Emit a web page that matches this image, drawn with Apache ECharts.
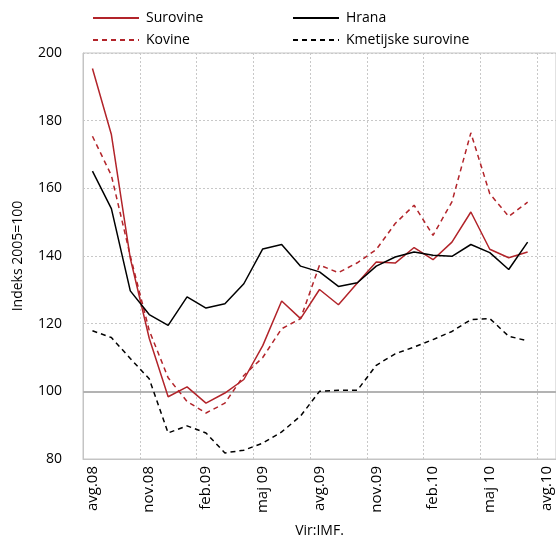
<!DOCTYPE html>
<html>
<head>
<meta charset="utf-8">
<script src="https://cdn.jsdelivr.net/npm/echarts@6/dist/echarts.min.js"></script>
<style>html,body{margin:0;padding:0;background:#fff}#c{width:556px;height:543px}</style>
</head>
<body>
<div id="c"></div>
<script>
const categories = ['avg.08','sep.08','okt.08','nov.08','dec.08','jan.09','feb.09','mar.09','apr.09','maj 09','jun.09','jul.09','avg.09','sep.09','okt.09','nov.09','dec.09','jan.10','feb.10','mar.10','apr.10','maj 10','jun.10','jul.10','avg.10'];
const surovine = [195.4,175.9,139.3,115.7,98.4,101.3,96.5,99.5,103.5,113.5,126.7,121.5,130.1,125.6,132,138.2,137.9,142.5,138.9,144.1,153,142,139.5,141.2,null];
const kovine = [175.4,163.8,140,118,104,97,93.6,96.5,104.7,110,118.5,121.5,137.3,135.1,138,141.9,149.6,155,146.1,156,176.4,158.4,151.7,155.9,null];
const hrana = [165.1,154,129.7,122.7,119.5,127.9,124.6,125.9,131.8,142.1,143.4,137,135.3,131,132.1,137,139.7,141.2,140.2,139.9,143.4,141,136,144.1,null];
const kmetijske = [117.9,115.9,109.7,103.7,87.7,89.8,87.7,81.8,82.6,84.7,88,92.7,100,100.3,100.3,107.7,111.1,113.1,115.3,117.7,121.2,121.5,116.3,114.9,null];
const yTicks = {min: 80, max: 200, interval: 20};

const RED = '#B2242A', BLK = '#000000';
const FONT = '"Open Sans", "Noto Sans", sans-serif';
const chart = echarts.init(document.getElementById('c'), null, {renderer: 'canvas'});
const mkLegend = (name, left, top) => ({
  data: [name], left: left, top: top, itemWidth: 46, itemHeight: 12, itemGap: 6,
  itemStyle: {opacity: 0, borderWidth: 0},
  textStyle: {fontFamily: FONT, fontSize: 14, color: '#000', padding: [0,0,0,2]},
  selectedMode: false, padding: 0
});
const ser = (name, data, color, dashed, z) => ({
  name, type: 'line', data, symbol: 'none', z,
  lineStyle: {color, width: 1.5, type: dashed ? [5,4] : 'solid'},
  itemStyle: {color}, animation: false
});
const s1 = ser('Surovine', surovine, RED, false, 5);
s1.markLine = {silent: true, symbol: 'none', label: {show: false},
  lineStyle: {color: '#b3b3b3', width: 2, type: 'solid'}, data: [{yAxis: 100}], animation: false, z: 1};
chart.setOption({
  animation: false,
  textStyle: {fontFamily: FONT},
  grid: {left: 83, right: 0, top: 53, bottom: 84, show: true, borderColor: '#c4c4c4', borderWidth: 1},
  legend: [mkLegend('Surovine', 92, 11), mkLegend('Kovine', 92, 33), mkLegend('Hrana', 292, 11), mkLegend('Kmetijske surovine', 292, 33)],
  xAxis: {
    type: 'category', data: categories, boundaryGap: true,
    axisLine: {show: true, lineStyle: {color: '#c4c4c4', width: 1}},
    axisTick: {show: false},
    axisLabel: {rotate: 90, interval: (i) => i % 3 === 0, margin: 7, fontSize: 15, color: '#000', fontFamily: FONT},
    splitLine: {show: true, interval: (i) => i % 3 === 0, lineStyle: {color: '#c8c8c8', type: [2,2], width: 1}},
    name: 'Vir:IMF.', nameLocation: 'middle', nameGap: 65,
    nameTextStyle: {fontSize: 14, color: '#000', fontFamily: FONT}
  },
  yAxis: {
    type: 'value', min: yTicks.min, max: yTicks.max, interval: yTicks.interval,
    axisLine: {show: true, lineStyle: {color: '#c4c4c4', width: 1}},
    axisTick: {show: false},
    axisLabel: {fontSize: 14, color: '#000', margin: 21, fontFamily: FONT},
    splitLine: {show: true, lineStyle: {color: '#c8c8c8', type: [2,2], width: 1}},
    name: 'Indeks 2005=100', nameLocation: 'middle', nameGap: 58, nameRotate: 90,
    nameTextStyle: {fontSize: 14, color: '#000', fontFamily: FONT}
  },
  series: [s1, ser('Kovine', kovine, RED, true, 4), ser('Hrana', hrana, BLK, false, 6), ser('Kmetijske surovine', kmetijske, BLK, true, 3)]
});
</script>
</body>
</html>
